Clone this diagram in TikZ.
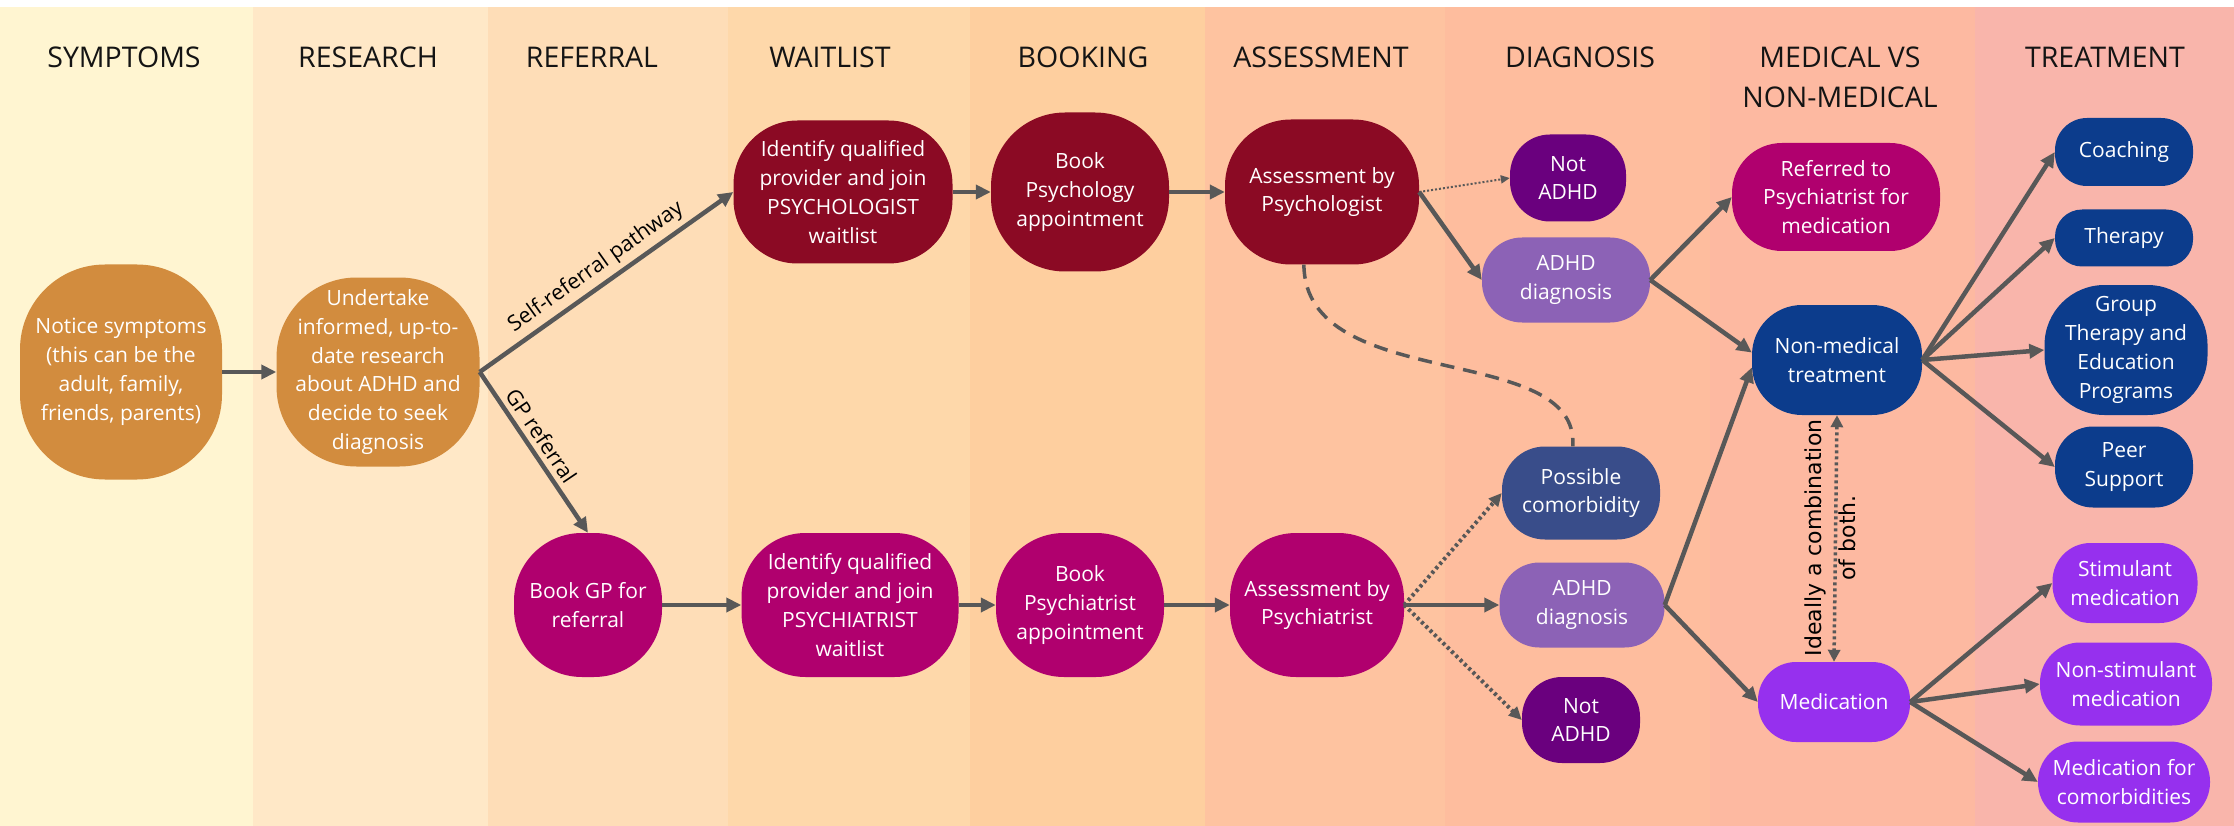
\documentclass[tikz,border=0pt]{standalone}
\usepackage{fontspec}
\setmainfont{Open Sans}
\newfontfamily\combfont{DejaVu Sans}
\usetikzlibrary{arrows.meta}
\definecolor{bandA}{HTML}{FFF5D1}
\definecolor{bandB}{HTML}{FFE8C7}
\definecolor{bandC}{HTML}{FEDDB7}
\definecolor{bandD}{HTML}{FED8AA}
\definecolor{bandE}{HTML}{FECF9F}
\definecolor{bandF}{HTML}{FEC3A0}
\definecolor{bandG}{HTML}{FEBD9E}
\definecolor{bandH}{HTML}{FDB9A1}
\definecolor{bandI}{HTML}{F9B5AB}
\definecolor{corange}{RGB}{210,140,62}
\definecolor{cred}{RGB}{139,10,36}
\definecolor{cmag}{RGB}{176,0,110}
\definecolor{cpurp}{RGB}{106,0,126}
\definecolor{clav}{RGB}{140,98,182}
\definecolor{cslate}{RGB}{57,77,138}
\definecolor{cblue}{RGB}{12,60,140}
\definecolor{cviol}{RGB}{150,48,238}
\definecolor{arrc}{RGB}{88,88,88}
\definecolor{headc}{RGB}{20,20,20}
\tikzset{
  bx/.style n args={4}{draw=none, fill=#4, minimum width=#1pt, minimum height=#2pt,
    rounded corners=#3pt, inner sep=0pt, align=center, text=white,
    font=\fontsize{21}{28.8}\selectfont},
  hd/.style={anchor=north, inner sep=0pt, align=center, text=headc,
    font=\fontsize{28.5}{40}\selectfont},
  arr/.style={draw=arrc, line width=4.5pt, -{Triangle[length=15pt,width=14pt]}},
  dotarr/.style={draw=arrc, line width=4pt, dash pattern=on 3pt off 3pt,
    -{Triangle[length=13pt,width=12pt]}},
  thindot/.style={draw=arrc, line width=2pt, dash pattern=on 2pt off 2pt,
    -{Triangle[length=9pt,width=8pt]}},
  dblarr/.style={draw=arrc, line width=3.5pt, dash pattern=on 3pt off 3pt,
    {Triangle[length=12pt,width=12pt]}-{Triangle[length=12pt,width=12pt]}},
  dashline/.style={draw=arrc, line width=3.5pt, dash pattern=on 14pt off 9pt},
  lbl/.style={text=black, inner sep=5pt, font=\fontsize{21.5}{25}\selectfont},
  rotlbl/.style={rotate=90, text=black, inner sep=0pt, align=center,
    font=\combfont\fontsize{22}{34}\selectfont}
}
\begin{document}
\begin{tikzpicture}[x=1pt,y=-1pt]
\useasboundingbox (0,0) rectangle (2234,826);
\fill[white] (0,0) rectangle (2234,826);
% bands
\fill[bandA] (0,7) rectangle (253,826);
\fill[bandB] (253,7) rectangle (488,826);
\fill[bandC] (488,7) rectangle (728,826);
\fill[bandD] (728,7) rectangle (970,826);
\fill[bandE] (970,7) rectangle (1205,826);
\fill[bandF] (1205,7) rectangle (1445,826);
\fill[bandG] (1445,7) rectangle (1710,826);
\fill[bandH] (1710,7) rectangle (1975,826);
\fill[bandI] (1975,7) rectangle (2234,826);
% headings
\node[hd] (h1) at (124,47) {SYMPTOMS};
\node[hd] (h2) at (368,47) {RESEARCH};
\node[hd] (h3) at (592,47) {REFERRAL};
\node[hd] (h4) at (830,47) {WAITLIST};
\node[hd] (h5) at (1083,47) {BOOKING};
\node[hd] (h6) at (1321,47) {ASSESSMENT};
\node[hd] (h7) at (1580,47) {DIAGNOSIS};
\node[hd] (h8) at (1840,47) {MEDICAL VS\\NON-MEDICAL};
\node[hd] (h9) at (2105,47) {TREATMENT};
% nodes
\node[bx={202}{215}{85}{corange}] (notice) at (121,372) {Notice symptoms\\(this can be the\\adult, family,\\friends, parents)};
\node[bx={203}{189}{80}{corange}] (research) at (378,372) {Undertake\\informed, up-to-\\date research\\about ADHD and\\decide to seek\\diagnosis};
\node[bx={148}{144}{68}{cmag}] (gp) at (588,605) {Book GP for\\referral};
\node[bx={219}{143}{64}{cred}] (psywait) at (843,192) {Identify qualified\\provider and join\\PSYCHOLOGIST\\waitlist};
\node[bx={178}{159}{74}{cred}] (psybook) at (1080,192) {Book\\Psychology\\appointment};
\node[bx={194}{145}{66}{cred}] (psyass) at (1322,192) {Assessment by\\Psychologist};
\node[bx={217}{144}{64}{cmag}] (chiwait) at (850,605) {Identify qualified\\provider and join\\PSYCHIATRIST\\waitlist};
\node[bx={168}{144}{68}{cmag}] (chibook) at (1080,605) {Book\\Psychiatrist\\appointment};
\node[bx={174}{144}{66}{cmag}] (chiass) at (1317,605) {Assessment by\\Psychiatrist};
\node[bx={116}{87}{40}{cpurp}] (not1) at (1568,178) {Not\\ADHD};
\node[bx={168}{85}{40}{clav}] (adhd1) at (1566,280) {ADHD\\diagnosis};
\node[bx={158}{93}{43}{cslate}] (comorb) at (1581,493) {Possible\\comorbidity};
\node[bx={165}{85}{40}{clav}] (adhd2) at (1582,605) {ADHD\\diagnosis};
\node[bx={118}{86}{40}{cpurp}] (not2) at (1581,720) {Not\\ADHD};
\node[bx={208}{108}{50}{cmag}] (referred) at (1836,197) {Referred to\\Psychiatrist for\\medication};
\node[bx={170}{110}{50}{cblue}] (nonmed) at (1837,360) {Non-medical\\treatment};
\node[bx={152}{80}{38}{cviol}] (med) at (1834,702) {Medication};
\node[bx={138}{68}{32}{cblue}] (coach) at (2124,152) {Coaching};
\node[bx={138}{57}{27}{cblue}] (ther) at (2124,238) {Therapy};
\node[bx={163}{130}{60}{cblue}] (group) at (2126,350) {Group\\Therapy and\\Education\\Programs};
\node[bx={138}{81}{38}{cblue}] (peer) at (2124,467) {Peer\\Support};
\node[bx={145}{80}{38}{cviol}] (stim) at (2125,583) {Stimulant\\medication};
\node[bx={172}{83}{40}{cviol}] (nonstim) at (2126,684) {Non-stimulant\\medication};
\node[bx={172}{81}{40}{cviol}] (medcom) at (2124,782) {Medication for\\comorbidities};
% connectors
\draw[arr] (notice) -- (research);
\draw[arr] (research.east) -- node[lbl, above, sloped, pos=0.5] {Self-referral pathway} (psywait.west);
\draw[arr] (research.east) -- node[lbl, above, sloped, pos=0.45] {GP referral} (gp.north);
\draw[arr] (psywait) -- (psybook);
\draw[arr] (psybook) -- (psyass);
\draw[arr] (gp) -- (chiwait);
\draw[arr] (chiwait) -- (chibook);
\draw[arr] (chibook) -- (chiass);
\draw[thindot] (psyass.east) -- (not1.west);
\draw[arr] (psyass.east) -- (adhd1.west);
\draw[dashline] (psyass.-104) .. controls (1305,395) and (1580,340) .. (comorb.100);
\draw[dotarr] (chiass.east) -- (comorb.west);
\draw[arr] (chiass.east) -- (adhd2.west);
\draw[dotarr] (chiass.east) -- (not2.west);
\draw[arr] (adhd1.east) -- (referred.west);
\draw[arr] (adhd1.east) -- (nonmed.175);
\draw[arr] (adhd2.east) -- (nonmed.185);
\draw[arr] (adhd2.east) -- (med.west);
\draw[dblarr] (nonmed.south) -- (med.north);
\node[rotlbl] (comb) at (1830,538) {Ideally a combination\\of both.};
\draw[arr] (nonmed.east) -- (coach.west);
\draw[arr] (nonmed.east) -- (ther.west);
\draw[arr] (nonmed.east) -- (group.west);
\draw[arr] (nonmed.east) -- (peer.west);
\draw[arr] (med.east) -- (stim.west);
\draw[arr] (med.east) -- (nonstim.west);
\draw[arr] (med.east) -- (medcom.west);
\end{tikzpicture}
\end{document}
